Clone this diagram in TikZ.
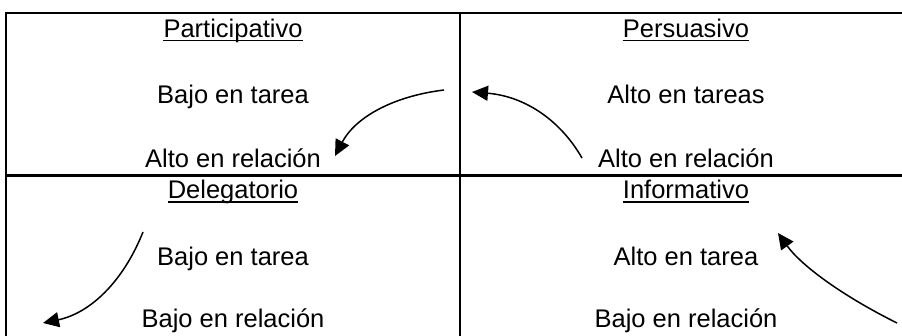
\documentclass[tikz,border=0pt]{standalone}
\usepackage{fontspec}
\setmainfont{Liberation Sans}
\usetikzlibrary{arrows.meta}

\begin{document}
\begin{tikzpicture}[x=1pt,y=-1pt,
  tabline/.style={line width=2.2pt},
  txt/.style={inner sep=0pt,anchor=base,font=\fontsize{25.5}{30}\selectfont},
  curv/.style={line width=1.5pt,-{Triangle[length=16pt,width=15pt]}}]
\useasboundingbox (0,0) rectangle (902,336);

% the four cells
\draw[tabline] (902,13)--(6,13)--(6,336);
\draw[tabline] (460,13)--(460,336);
\draw[tabline] (6,175.5)--(902,175.5);

\node[txt] (partic) at (233,37.5) {Participativo};
\node[txt] (partT) at (233,104) {Bajo en tarea};
\node[txt] (partR) at (233,168) {Alto en relación};

\node[txt] (persu) at (686,37.5) {Persuasivo};
\node[txt] (persuT) at (686,104) {Alto en tareas};
\node[txt] (persuR) at (686,168) {Alto en relación};

\node[txt] (deleg) at (233,199) {Delegatorio};
\node[txt] (delegT) at (233,266) {Bajo en tarea};
\node[txt] (delegR) at (233,328) {Bajo en relación};

\node[txt] (infor) at (686,199) {Informativo};
\node[txt] (inforT) at (686,266) {Alto en tarea};
\node[txt] (inforR) at (686,328) {Bajo en relación};

\foreach \n in {partic,persu,deleg,infor}
  \draw[line width=1.6pt] ([yshift=-3pt]\n.base west) -- ([yshift=-3pt]\n.base east);

% arrows
\coordinate (a1) at (444,90);   \coordinate (b1) at (335,156);
\coordinate (a2) at (582,158);  \coordinate (b2) at (472,92);
\coordinate (a3) at (143,232);  \coordinate (b3) at (43,323);
\coordinate (a4) at (897,323);  \coordinate (b4) at (778,233);

\draw[curv] (a1) .. controls (391,96.5) and (354.6,118.5) .. (b1);
\draw[curv] (a2) .. controls (559,118) and (522.5,96) .. (b2);
\draw[curv] (a3) .. controls (122.6,283) and (89.3,313.3) .. (b3);
\draw[curv] (a4) .. controls (840,294.6) and (800.5,264.6) .. (b4);
\end{tikzpicture}
\end{document}
